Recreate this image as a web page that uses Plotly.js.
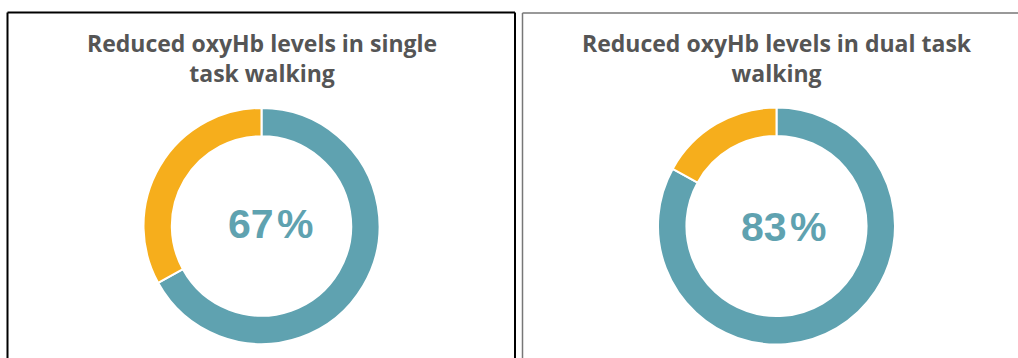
<!DOCTYPE html>
<html><head><meta charset="utf-8">
<script src="https://cdn.plot.ly/plotly-3.0.1.min.js"></script>
<style>html,body{margin:0;padding:0;background:#fff;}#c{width:1018px;height:358px;}</style>
</head><body><div id="c"></div>
<script>
const labels = ["Reduced oxyHb", "Other"];
const singleTask = [67, 33];
const dualTask = [83, 17];
const titles = ["Reduced oxyHb levels in single<br>task walking", "Reduced oxyHb levels in dual task<br>walking"];
const centerLabels = ["67\u200A%", "83\u200A%"];
const colors = ["#5fa2b0", "#f6ae1c"];

const W = 1018, H = 358;
const px = v => v / W, py = v => 1 - v / H;

function pie(vals, cx, cy, r) {
  return {
    type: "pie", values: vals, labels: labels, sort: false, direction: "clockwise", rotation: 0,
    hole: 0.76, textinfo: "none", hoverinfo: "none",
    marker: {colors: colors, line: {color: "#ffffff", width: 2}},
    domain: {x: [px(cx - r), px(cx + r)], y: [py(cy + r), py(cy - r)]},
    showlegend: false
  };
}

const data = [pie(singleTask, 261.5, 226, 118), pie(dualTask, 776.5, 226, 118.5)];

const titleFont = {family: "Open Sans", size: 23, color: "#555555", weight: 700};
const pctFont = {family: "Liberation Sans", size: 41, color: "#5fa2b0", weight: 700};

const layout = {
  width: W, height: H, margin: {l: 0, r: 0, t: 0, b: 0},
  paper_bgcolor: "#fff", showlegend: false,
  shapes: [
    {type: "line", xref: "paper", yref: "paper", x0: px(7.5), x1: px(7.5), y0: py(12.5), y1: -0.1, line: {color: "#000", width: 2}},
    {type: "line", xref: "paper", yref: "paper", x0: px(515), x1: px(515), y0: py(12.5), y1: -0.1, line: {color: "#000", width: 2}},
    {type: "line", xref: "paper", yref: "paper", x0: px(7.5), x1: px(515), y0: py(12.5), y1: py(12.5), line: {color: "#000", width: 2}},
    {type: "line", xref: "paper", yref: "paper", x0: px(522.5), x1: px(522.5), y0: py(13), y1: -0.1, line: {color: "#777", width: 1.5}},
    {type: "line", xref: "paper", yref: "paper", x0: px(522.5), x1: 1.01, y0: py(13), y1: py(13), line: {color: "#777", width: 1.5}}
  ],
  annotations: [
    {text: titles[0], xref: "paper", yref: "paper", x: px(261.5), y: py(58), xanchor: "center", yanchor: "middle", showarrow: false, font: titleFont},
    {text: titles[1], xref: "paper", yref: "paper", x: px(776.5), y: py(58), xanchor: "center", yanchor: "middle", showarrow: false, font: titleFont},
    {text: centerLabels[0], xref: "paper", yref: "paper", x: px(270), y: py(224), xanchor: "center", yanchor: "middle", showarrow: false, font: pctFont},
    {text: centerLabels[1], xref: "paper", yref: "paper", x: px(783), y: py(227), xanchor: "center", yanchor: "middle", showarrow: false, font: pctFont}
  ]
};
Plotly.newPlot("c", data, layout, {staticPlot: true, displayModeBar: false});
</script></body></html>
